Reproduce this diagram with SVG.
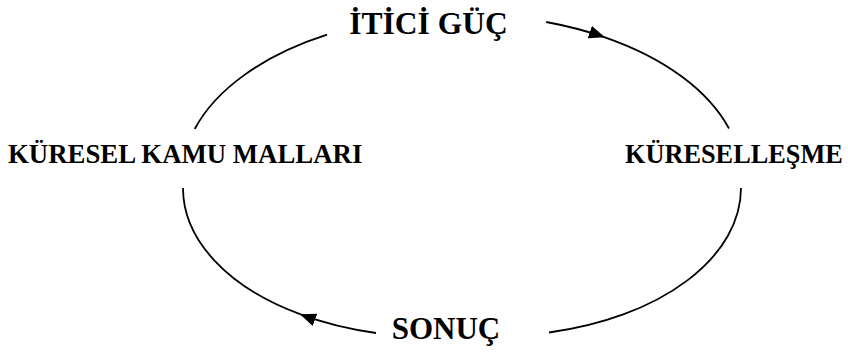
<svg xmlns="http://www.w3.org/2000/svg" width="848" height="354" viewBox="0 0 848 354">
  <style>
    .lbl { font-family: "Liberation Serif", "Times New Roman", serif; font-weight: bold; fill: #000; }
    .arc { fill: none; stroke: #000; stroke-width: 1.8; }
  </style>
  <defs>
    <marker id="ah" markerUnits="userSpaceOnUse" markerWidth="18" markerHeight="14" refX="16" refY="6.5" orient="auto">
      <path d="M0,0 L16,6.5 L0,13 Z" fill="#000"/>
    </marker>
  </defs>
  <rect width="848" height="354" fill="#fff"/>
  <g id="connectors">
    <path class="arc" d="M194.7,129 A280,163 0 0 1 327.1,34.7"/>
    <path class="arc" d="M546.2,22 A280,163 0 0 1 604.9,37.3" marker-end="url(#ah)"/>
    <path class="arc" d="M604.9,37.3 A280,163 0 0 1 729,128.5"/>
    <path class="arc" d="M741,188 A245,148 0 0 1 549,332.5"/>
    <path class="arc" d="M376,333 A245,148 0 0 1 300,314.2" marker-end="url(#ah)"/>
    <path class="arc" d="M300,314.2 A245,148 0 0 1 183,188"/>
  </g>
  <g id="node-itici-guc">
    <text class="lbl" x="428.5" y="33.5" font-size="31.5" text-anchor="middle">İTİCİ GÜÇ</text>
  </g>
  <g id="node-kuresellesme">
    <text class="lbl" x="625" y="163" font-size="26.3">KÜRESELLEŞME</text>
  </g>
  <g id="node-sonuc">
    <text class="lbl" x="446" y="339" font-size="31" text-anchor="middle">SONUÇ</text>
  </g>
  <g id="node-kuresel-kamu-mallari">
    <text class="lbl" x="8" y="163" font-size="26.8">KÜRESEL KAMU MALLARI</text>
  </g>
</svg>
